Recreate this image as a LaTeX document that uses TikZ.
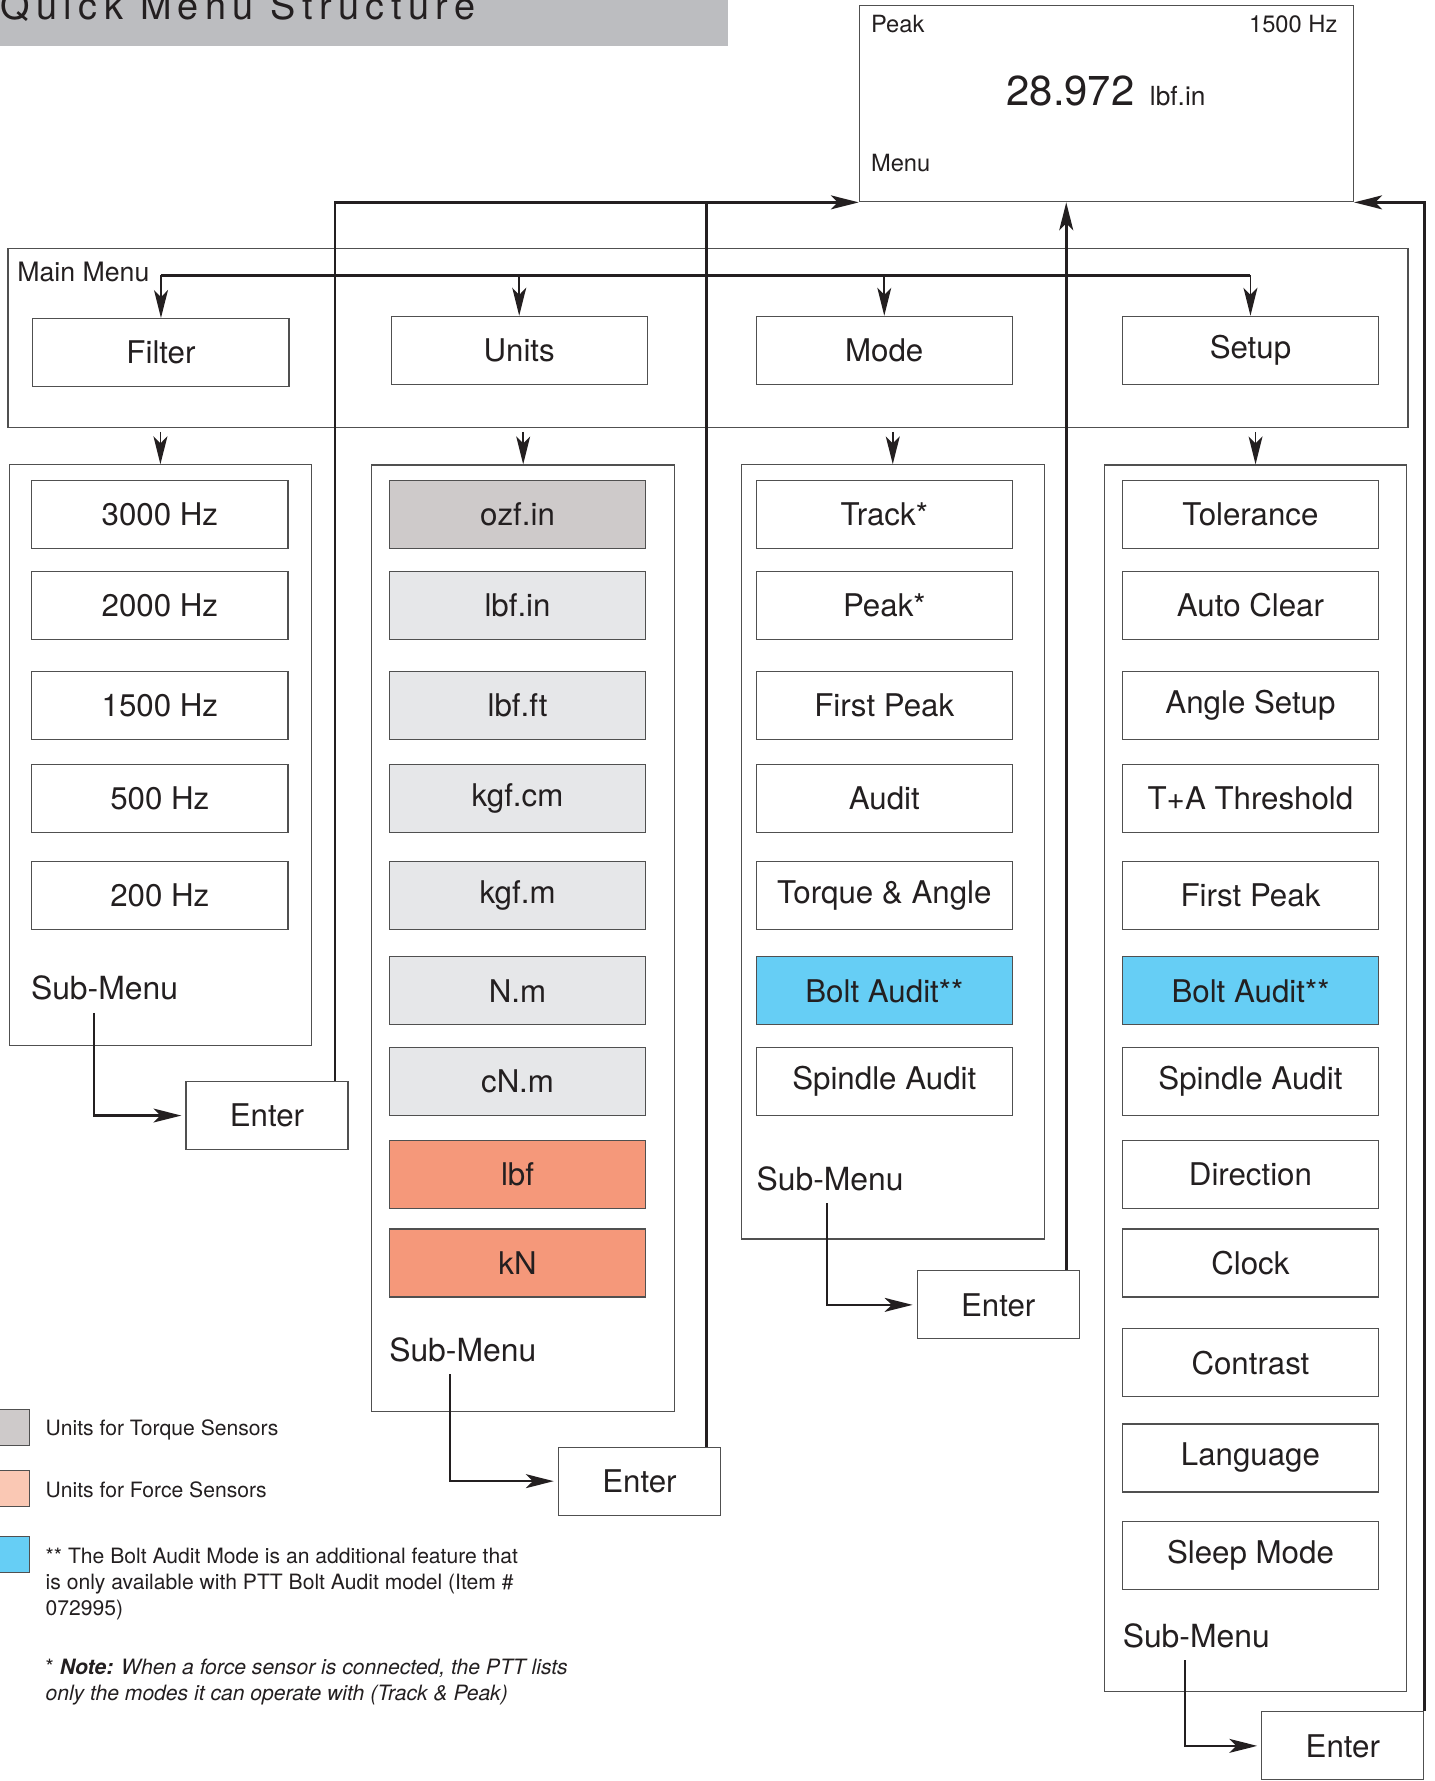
\documentclass[tikz,border=0pt]{standalone}
\usepackage{fontspec}
\setmainfont{TeX Gyre Heros}
\usetikzlibrary{arrows.meta,positioning}

\definecolor{ink}{RGB}{35,31,32}
\definecolor{boxline}{RGB}{80,80,80}
\definecolor{titlegray}{RGB}{188,189,192}
\definecolor{torquedark}{RGB}{206,202,202}
\definecolor{torquelight}{RGB}{230,231,233}
\definecolor{forcedark}{RGB}{245,152,122}
\definecolor{forcelight}{RGB}{250,200,180}
\definecolor{boltblue}{RGB}{102,206,245}

\newcommand{\fsz}[2]{\fontsize{#1}{#2}\selectfont}

\begin{document}
\begin{tikzpicture}[
    x=0.02cm, y=-0.02cm,
    >={Stealth[length=14pt,width=7pt,inset=3.5pt]},
    panel/.style = {
      draw = boxline,
      line width = 0.6pt,
      inner sep = 0pt
    },
    item/.style = {
      panel,
      minimum width = 4.52cm,
      minimum height = 1.2cm,
      font = \fsz{15.7}{18},
      text = ink
    },
    enter/.style = {item, minimum width = 2.86cm},
    lbl/.style = {inner sep = 0pt, text = ink},
    arr/.style = {->, line width = 0.9pt, draw = ink},
    sub/.style = {->, line width = 1.1pt, draw = ink, shorten <= 6pt, shorten >= 2pt},
    ret/.style = {line width = 1.4pt, draw = ink},
    swatch/.style = {panel, minimum size = 0.64cm}
  ]
  \useasboundingbox (0,0) rectangle (1265,1571);

  % title
  \node[fill = titlegray, anchor = north west, inner sep = 0pt,
    minimum width = 12.84cm, minimum height = 0.8cm] (titlebar) at (0,0) {};
  \node[lbl, anchor = base west,
    font = \fsz{19}{22}\addfontfeature{LetterSpace=17}] (title) at (0,17)
    {Quick Menu Structure};

  % display
  \node[panel, minimum width = 8.72cm, minimum height = 3.46cm] (disp) at (976,91.5) {};
  \node[lbl, font = \fsz{11.9}{14}, anchor = base west] (dpeak) at (768,29) {Peak};
  \node[lbl, font = \fsz{11.9}{14}, anchor = base east] (dfreq) at (1180,29) {1500 Hz};
  \node[lbl, font = \fsz{21}{24}, anchor = base east] (dval) at (1001,93) {28.972};
  \node[lbl, font = \fsz{13.2}{15}, anchor = base west] (dunit) at (1014,93) {lbf.in};
  \node[lbl, font = \fsz{11.9}{14}, anchor = base west] (dmenu) at (768,151) {Menu};

  % main menu
  \node[panel, minimum width = 24.7cm, minimum height = 3.16cm] (mainmenu) at (624.5,298) {};
  \node[lbl, font = \fsz{13.4}{16}, anchor = base west] (mmtext) at (15,248) {Main Menu};
  \node[item] (filter) at (142,311) {Filter};
  \node[item] (units)  at (458,309) {Units};
  \node[item] (mode)   at (780,309) {Mode};
  \node[item] (setup)  at (1103,309) {Setup};
  \coordinate (mmline) at (0,243);
  \draw[line width = 1.6pt, ink] (filter.north |- mmline) -- (setup.north |- mmline);
  \foreach \n in {filter,units,mode,setup}
    \draw[arr] (\n.north |- mmline) -- (\n.north);

  % sub-menu columns
  \node[panel, minimum width = 5.34cm, minimum height = 10.24cm] (fcol) at (141.5,666) {};
  \node[panel, minimum width = 5.34cm, minimum height = 16.7cm]  (ucol) at (461.5,827.5) {};
  \node[panel, minimum width = 5.34cm, minimum height = 13.66cm] (mcol) at (787.5,751.5) {};
  \node[panel, minimum width = 5.34cm, minimum height = 21.64cm] (scol) at (1107.5,951) {};
  \foreach \n in {fcol,ucol,mcol,scol}
    \draw[arr, shorten <= 2pt] (\n.north |- mainmenu.south) -- (\n.north);

  \foreach \y/\t [count=\i] in {454/3000 Hz, 534/2000 Hz, 622/1500 Hz,
      704/500 Hz, 790/200 Hz}
    \node[item] (f\i) at (141,\y) {\t};
  \foreach \y/\t/\c [count=\i] in {454/ozf.in/torquedark, 534/lbf.in/torquelight,
      622/lbf.ft/torquelight, 704/kgf.cm/torquelight, 790/kgf.m/torquelight,
      874/N.m/torquelight, 954/cN.m/torquelight, 1036/lbf/forcedark,
      1114/kN/forcedark}
    \node[item, fill = \c] (u\i) at (456.5,\y) {\t};
  \foreach \y/\t/\c [count=\i] in {454/Track*/white, 534/Peak*/white,
      622/First Peak/white, 704/Audit/white, 790/Torque \& Angle/white,
      874/Bolt Audit**/boltblue, 954/Spindle Audit/white}
    \node[item, fill = \c] (m\i) at (780,\y) {\t};
  \foreach \y/\t/\c [count=\i] in {454/Tolerance/white, 534/Auto Clear/white,
      622/Angle Setup/white, 704/T+A Threshold/white, 790/First Peak/white,
      874/Bolt Audit**/boltblue, 954/Spindle Audit/white, 1036/Direction/white,
      1114/Clock/white, 1202/Contrast/white, 1286/Language/white,
      1372/Sleep Mode/white}
    \node[item, fill = \c] (s\i) at (1103,\y) {\t};

  % sub-menu -> enter
  \node[lbl, font = \fsz{16}{19}, anchor = base west] (fsub) at (27,882) {Sub-Menu};
  \node[lbl, font = \fsz{16}{19}, anchor = base west] (usub) at (343,1201) {Sub-Menu};
  \node[lbl, font = \fsz{16}{19}, anchor = base west] (msub) at (667,1050) {Sub-Menu};
  \node[lbl, font = \fsz{16}{19}, anchor = base west] (ssub) at (990,1453) {Sub-Menu};
  \node[enter] (fent) at (235.5,984) {Enter};
  \node[enter] (uent) at (564,1306.5) {Enter};
  \node[enter] (ment) at (880.5,1151) {Enter};
  \node[enter] (sent) at (1184.5,1540) {Enter};
  \draw[sub] ([xshift=-0.18cm]fsub.south) |- (fent.west);
  \draw[sub] ([xshift=-0.22cm]usub.south) |- (uent.west);
  \draw[sub] ([xshift=-0.05cm]msub.south) |- (ment.west);
  \draw[sub] ([xshift=-0.2cm]ssub.south) |- (sent.west);

  % enter -> display
  \coordinate (fret) at ([xshift=-0.24cm]fent.north east);
  \coordinate (uret) at ([xshift=-0.26cm]uent.north east);
  \coordinate (mret) at ([xshift=-0.24cm]ment.north east);
  \draw[ret, ->] (fret) |- (disp.south west);
  \draw[ret] (uret) -- (uret |- disp.south west);
  \draw[ret, ->] (mret) -- (mret |- disp.south);
  \draw[ret, ->] (sent.north east) |- (disp.south east);

  % legend
  \node[swatch, fill = torquedark] (lgtorque) at (10,1259) {};
  \node[swatch, fill = forcelight] (lgforce) at (10,1313) {};
  \node[swatch, fill = boltblue] (lgbolt) at (10,1371) {};
  \node[lbl, font = \fsz{10.6}{13}, anchor = base west] (lgtorquetxt) at (40,1266)
    {Units for Torque Sensors};
  \node[lbl, font = \fsz{10.6}{13}, anchor = base west] (lgforcetxt) at (40,1321)
    {Units for Force Sensors};
  \node[lbl, font = \fsz{10.6}{13}, align = left, anchor = base west] (lgbolttxt) at (40,1425)
    {** The Bolt Audit Mode is an additional feature that\\
     is only available with PTT Bolt Audit model (Item \#\\
     072995)};
  \node[lbl, font = \fsz{10.6}{13}, align = left, anchor = base west] (lgnote) at (40,1500)
    {* \textbf{\textit{Note:}} \textit{When a force sensor is connected, the PTT lists}\\
     \textit{only the modes it can operate with (Track \& Peak)}};
\end{tikzpicture}
\end{document}
